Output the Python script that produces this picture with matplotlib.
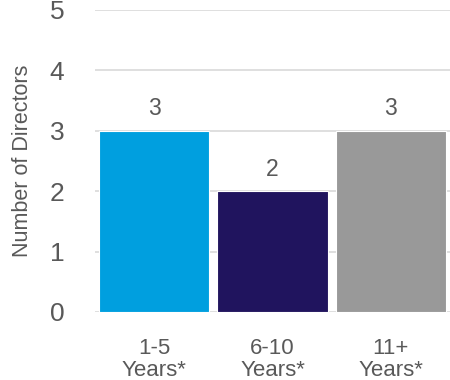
import matplotlib
matplotlib.use("Agg")
import matplotlib.pyplot as plt

categories = ["1-5\nYears*", "6-10\nYears*", "11+\nYears*"]
values = [3, 2, 3]
colors = ["#009FDF", "#20145E", "#999999"]
yticks = [0, 1, 2, 3, 4, 5]

plt.rcParams['font.family'] = ['Liberation Sans', 'DejaVu Sans']
txt = "#595959"

fig = plt.figure(figsize=(4.5, 3.8), dpi=100)
ax = fig.add_axes([0.211, 0.179, 0.789, 0.795])
x = list(range(len(categories)))
bars = ax.bar(x, values, width=0.93, color=colors, edgecolor="white", linewidth=0.8, zorder=3)
for xi, v in zip(x, values):
    ax.text(xi, v + 0.17, str(v), ha="center", va="bottom", fontsize=16.5, color=txt)

ax.set_xlim(-0.5, 2.5)
ax.set_ylim(0, 5)
ax.set_yticks(yticks)
ax.set_yticklabels([str(t) for t in yticks], fontsize=19, color=txt)
ax.set_xticks(x)
ax.set_xticklabels(categories, fontsize=16, color=txt, linespacing=1.05)
ax.tick_params(axis="both", length=0)
ax.tick_params(axis="y", pad=22)
ax.tick_params(axis="x", pad=19)
ax.yaxis.grid(True, color="#D9D9D9", linewidth=1.2, zorder=0)
ax.set_axisbelow(True)
for s in ax.spines.values():
    s.set_visible(False)
ax.set_ylabel("Number of Directors", fontsize=15.5, color=txt, va="center")
ax.yaxis.set_label_coords(-0.205, 0.5)

fig.savefig("out.png", dpi=100)
